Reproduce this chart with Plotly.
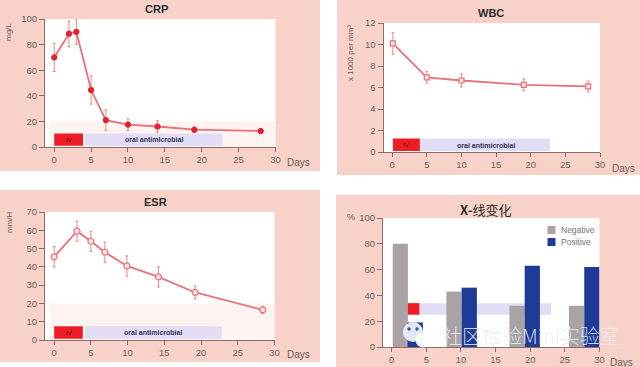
import plotly.graph_objects as go

W, H = 640, 367

crp_days = [0, 2, 3, 5, 7, 10, 14, 19, 28]
crp_vals = [70, 88.5, 90, 44.5, 21, 17.5, 16, 13.5, 12.5]
crp_errs = [11, 10, 10, 11, 8, 4.5, 4.5, 2, 2]

wbc_days = [0.1, 5, 10, 19, 28.3]
wbc_vals = [10.1, 6.95, 6.65, 6.25, 6.1]
wbc_errs = [1.0, 0.55, 0.6, 0.55, 0.5]

esr_days = [0, 3.1, 5, 6.9, 9.9, 14.2, 19.2, 28.4]
esr_vals = [45.5, 59.5, 54, 48, 40.5, 34.5, 26, 16.5]
esr_errs = [5.5, 5.5, 5.5, 5.5, 5.5, 5.5, 3.5, 2]

neg_x = [1.25, 9.0, 18.1, 26.7]
neg_vals = [80, 43, 32, 32]
pos_x = [3.4, 11.2, 20.3, 28.9]
pos_vals = [19, 46, 63, 62]

RED = "#e8707a"
MARK = "#e3202e"
TXT = "#6a5f5c"
AX = "#8d6e66"
PINK = "#f8d2c9"


def xp(v):
    return v / W


def yp(v):
    return 1 - v / H


fig = go.Figure()
shapes = []
ann = []


def paper_rect(x0, y0, x1, y1, color):
    shapes.append(dict(type="rect", xref="paper", yref="paper", x0=xp(x0), x1=xp(x1),
                       y0=yp(y1), y1=yp(y0), fillcolor=color, line_width=0, layer="below"))


def label(x, y, text, size=9, color=TXT, angle=0, bold=False, family="Liberation Sans", anchor="center"):
    ann.append(dict(xref="paper", yref="paper", x=xp(x), y=yp(y), text=f"<b>{text}</b>" if bold else text,
                    showarrow=False, font=dict(size=size, color=color, family=family),
                    textangle=angle, xanchor=anchor, yanchor="middle"))


panels = [
    dict(n="", bg=(0, 0, 320, 171), box=(45, 19, 275.5, 147), yr=100, dt=20, title="CRP", tx=156, ty=9,
         ytitle="mg/L", ytx=9, yty=32, days=(298, 162), band=20, rows=(1.0, 10.5), iv=(0, 3.9), oral=(4.2, 22.8), ivtxt=(2, 5.8), oraltxt=(13.5, 5.8)),
    dict(n="2", bg=(337, 0, 640, 175), box=(383.5, 23, 600, 152), yr=12, dt=2, title="WBC", tx=491, ty=13,
         ytitle="x 1000 per mm³", ytx=350, yty=53, days=(623, 168), band=None, rows=(0.1, 1.25), iv=(0.1, 4), oral=(4, 22.8), ivtxt=(2, 0.65), oraltxt=(13.5, 0.65)),
    dict(n="3", bg=(0, 190, 320, 362), box=(45, 212, 274.5, 340), yr=70, dt=10, title="ESR", tx=155, ty=202,
         ytitle="mm/H", ytx=9, yty=222, days=(298, 354), band=20, rows=(0.7, 7.5), iv=(0, 3.9), oral=(4.2, 22.8), ivtxt=(2, 4.1), oraltxt=(13.5, 4.1)),
    dict(n="4", bg=(336, 195, 640, 367), box=(383, 218, 599.5, 347), yr=100, dt=20, title="<b>X-</b>线变化", tx=485, ty=209,
         ytitle=None, days=(621, 362), band=None, rows=(25, 34), iv=(2.2, 4), oral=(4, 23), ivtxt=None, oraltxt=None),
]

axes = {}
for p in panels:
    paper_rect(*p["bg"], PINK)
for p in panels:
    x0, y0, x1, y1 = p["box"]
    paper_rect(x0, y0, x1, y1, "#ffffff")
    n = p["n"]
    axes[f"xaxis{n}"] = dict(domain=[xp(x0), xp(x1)], range=[-1.25, 30], anchor=f"y{n}", tickvals=list(range(0, 31, 5)),
                             ticks="outside", ticklen=4, tickcolor=AX, showline=True, linecolor=AX, linewidth=1, automargin=False,
                             showgrid=False, zeroline=False, tickfont=dict(size=9.5, color=TXT, family="Liberation Sans"))
    axes[f"yaxis{n}"] = dict(domain=[yp(y1), yp(y0)], range=[0, p["yr"]], anchor=f"x{n}", dtick=p["dt"], automargin=False,
                             ticks="outside", ticklen=5, tickcolor=AX, showline=True, linecolor=AX, linewidth=1,
                             showgrid=False, zeroline=False, tickfont=dict(size=9.5, color=TXT, family="Liberation Sans"))
    xr, yr = f"x{n}", f"y{n}"
    if p["band"]:
        shapes.append(dict(type="rect", xref=xr, yref=yr, x0=-0.6, x1=30, y0=0, y1=p["band"],
                           fillcolor="#fdf3f1", line_width=0, layer="below"))
    r0, r1 = p["rows"]
    shapes.append(dict(type="rect", xref=xr, yref=yr, x0=p["oral"][0], x1=p["oral"][1], y0=r0, y1=r1,
                       fillcolor="#e3dcf5", line_width=0, layer="below"))
    shapes.append(dict(type="rect", xref=xr, yref=yr, x0=p["iv"][0], x1=p["iv"][1], y0=r0, y1=r1,
                       fillcolor="#ee1c25", line_width=0, layer="below"))
    if p["ivtxt"]:
        ann.append(dict(xref=xr, yref=yr, x=p["ivtxt"][0], y=p["ivtxt"][1], text="IV", showarrow=False,
                        font=dict(size=6, color="#4a1a20", family="Liberation Sans")))
        ann.append(dict(xref=xr, yref=yr, x=p["oraltxt"][0], y=p["oraltxt"][1], text="<b>oral antimicrobial</b>", showarrow=False,
                        font=dict(size=7, color="#2f3560", family="Liberation Sans")))
    if "线" in p["title"]:
        label(p["tx"], p["ty"], p["title"], size=13, color="#2a2a2a", family="Noto Sans CJK SC")
    else:
        label(p["tx"], p["ty"], p["title"], size=11, color="#2a2a2a", bold=True)
    if p["ytitle"]:
        label(p["ytx"], p["yty"], p["ytitle"], size=8, angle=-90)
    label(p["days"][0], p["days"][1], "Days", size=10)

label(351, 217, "%", size=9)


def line_trace(days, vals, errs, xa, ya, sym, size, mfill, mline):
    fig.add_trace(go.Scatter(x=days, y=vals, mode="lines+markers", xaxis=xa, yaxis=ya, showlegend=False,
                             line=dict(color=RED, width=1.8),
                             marker=dict(symbol=sym, size=size, color=mfill, line=dict(color=mline, width=1.2)),
                             error_y=dict(type="data", array=errs, visible=True, color="#e58a88", thickness=1, width=1.5)))


line_trace(crp_days, crp_vals, crp_errs, "x", "y", "circle", 5, MARK, MARK)
line_trace(wbc_days, wbc_vals, wbc_errs, "x2", "y2", "square", 5, "#fde4e2", RED)
line_trace(esr_days, esr_vals, esr_errs, "x3", "y3", "circle", 6, "#fde4e2", RED)

fig.add_trace(go.Bar(x=neg_x, y=neg_vals, width=2.2, marker=dict(color="#a9a3a6", line_width=0),
                     xaxis="x4", yaxis="y4", showlegend=False, name="Negative"))
fig.add_trace(go.Bar(x=pos_x, y=pos_vals, width=2.2, marker=dict(color="#1c3a96", line_width=0),
                     xaxis="x4", yaxis="y4", showlegend=False, name="Positive"))

# legend
for yc, col, name in [(230, "#a9a3a6", "Negative"), (242, "#1c3a96", "Positive")]:
    paper_rect(547.5, yc - 4, 555.5, yc + 4, col)
    label(559, yc, name, size=8.5, color="#77706e", anchor="left")

# watermark
ann.append(dict(xref="paper", yref="paper", x=xp(440), y=yp(335), text="社区检验Mini实验室", showarrow=False, xanchor="left", yanchor="middle",
                font=dict(size=20, color="rgba(228,236,245,0.88)", family="Noto Sans CJK SC", weight=300)))
top = []
for cx, cy, rx, ry, col in [(413, 332, 10, 10, "rgba(236,242,248,0.95)"), (423, 340, 7.5, 7.5, "rgba(255,255,255,0.95)"),
                            (409, 329, 1.7, 1.7, "#33588a"), (417, 329, 1.7, 1.7, "#33588a")]:
    top.append(dict(type="circle", xref="paper", yref="paper", x0=xp(cx - rx), x1=xp(cx + rx), y0=yp(cy + ry), y1=yp(cy - ry),
                    fillcolor=col, line_width=0, layer="above"))

fig.update_layout(width=W, height=H, margin=dict(l=0, r=0, t=0, b=0), paper_bgcolor="#ffffff", plot_bgcolor="rgba(0,0,0,0)",
                  barmode="overlay", showlegend=False, shapes=shapes + top, annotations=ann, **axes)

fig.write_html("out.html", config={"displayModeBar": False}, post_script="document.body.style.margin='0';")
